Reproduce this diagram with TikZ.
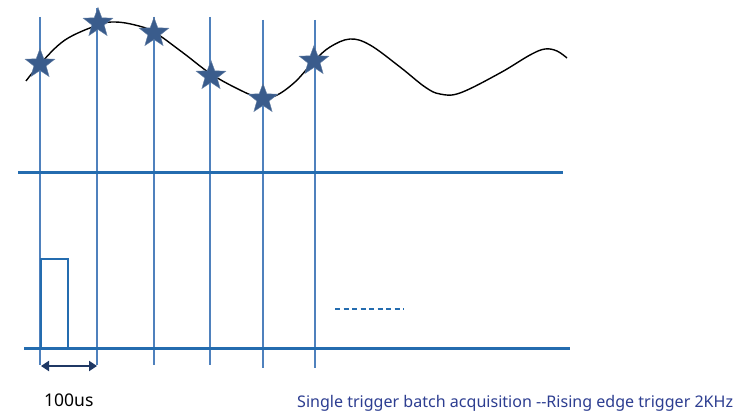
\documentclass[tikz,border=0pt]{standalone}
\usepackage{fontspec}
\setmainfont{Noto Sans}
\usetikzlibrary{shapes.geometric,arrows.meta}
\definecolor{vline}{RGB}{79,129,189}
\definecolor{hline}{RGB}{36,108,175}
\definecolor{starc}{RGB}{58,92,140}
\definecolor{arrowc}{RGB}{31,56,100}
\definecolor{capc}{RGB}{45,62,145}
\tikzset{
  grid/.style={draw=vline, line width=1.4pt},
  axis/.style={draw=hline, line width=3pt},
  pulse/.style={draw=hline, line width=2.4pt},
  mstar/.style={star, star points=5, star point ratio=2.4, minimum size=31pt, inner sep=0pt, fill=starc, draw=starc!80!white, line width=0.4pt},
  wave/.style={draw=black, line width=1.4pt},
  dim/.style={draw=arrowc, line width=2.2pt, {Triangle[length=8pt,width=10pt]}-{Triangle[length=8pt,width=10pt]}},
}
\begin{document}
\begin{tikzpicture}[x=1pt,y=-1pt]
\useasboundingbox (0,0) rectangle (740,417);
\fill[white] (0,0) rectangle (740,417);
% vertical grid lines
\foreach \n/\x/\t/\b in {1/40/17/365, 2/97/8/365, 3/154/17/365, 4/210/17/365, 5/263/20/368, 6/315/20/368}{
  \coordinate (t\n) at (\x,\t);
  \coordinate (b\n) at (\x,\b);
  \draw[grid] (t\n) -- (b\n);
}
% horizontal axes
\coordinate (a1) at (18,173); \coordinate (a2) at (563,173);
\coordinate (c1) at (24,348); \coordinate (c2) at (570,348);
\draw[axis] (a1) -- (a2);
\draw[axis] (c1) -- (c2);
% pulse
\coordinate (p1) at (41,348); \coordinate (p2) at (41,259);
\coordinate (p3) at (68,259); \coordinate (p4) at (68,348);
\draw[pulse] (p1) -- (p2) -- (p3) -- (p4);
% dashed
\coordinate (d1) at (335,309); \coordinate (d2) at (404,309);
\draw[draw=hline, line width=2.2pt, dash pattern=on 5pt off 3.5pt] (d1) -- (d2);
% wave
\draw[wave] plot[smooth, tension=0.6] coordinates {(26,81) (40,64) (65,40) (98,25) (115,22) (135,25) (154,32) (182,52) (211,74) (240,90) (258,97) (275,96) (295,82) (314,61) (330,47) (350,39) (370,45) (400,67) (425,87) (440,94) (460,93) (500,73) (530,55) (545,49) (557,51) (567,58)};
% stars
\node[mstar] (s1) at (40,64) {};
\node[mstar] (s2) at (98,23) {};
\node[mstar] (s3) at (154,33) {};
\node[mstar] (s4) at (211,76) {};
\node[mstar] (s5) at (263,99) {};
\node[mstar] (s6) at (314,61) {};
% dimension arrow
\coordinate (m1) at (41,366); \coordinate (m2) at (97,366);
\draw[dim] (m1) -- (m2);
\node[anchor=base west, inner sep=0pt, font=\fontsize{17.5}{20}\selectfont] (lbl) at (44,406) {100us};
\node[anchor=base west, inner sep=0pt, text=capc, font=\fontsize{16.05}{18}\selectfont] (cap) at (297,407) {Single trigger batch acquisition -{}-Rising edge trigger 2KHz};
\end{tikzpicture}
\end{document}
